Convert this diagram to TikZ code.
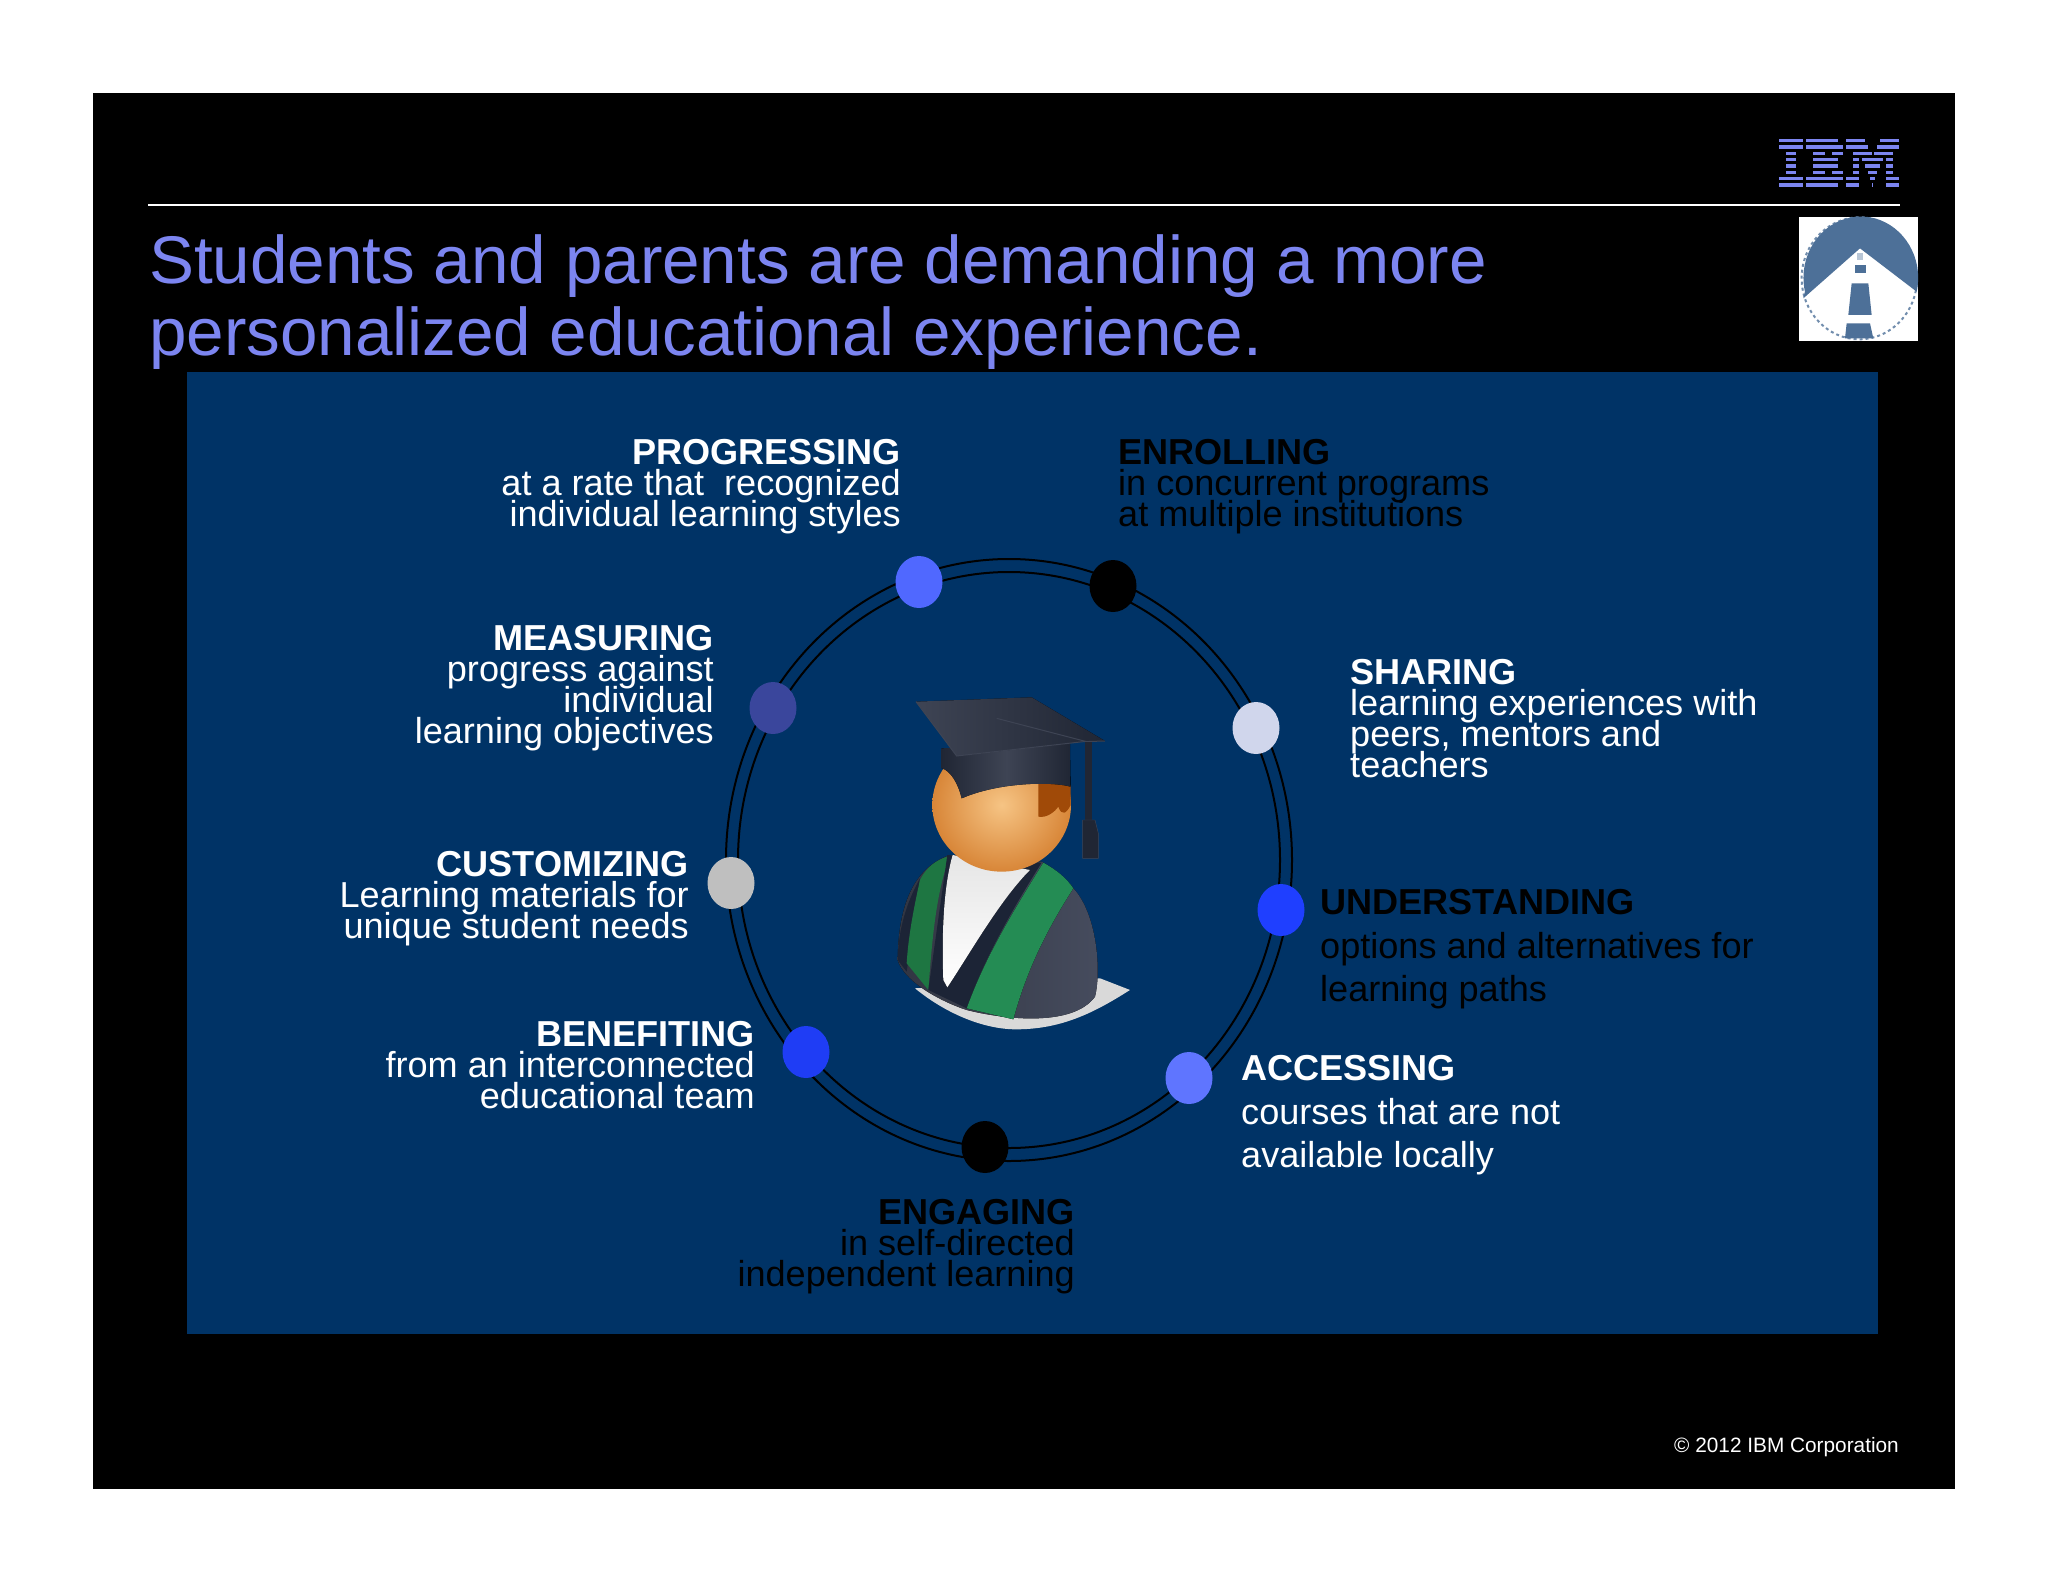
\documentclass[tikz,border=0pt]{standalone}
\usepackage{fontspec}
\setmainfont{Liberation Sans}
\usetikzlibrary{shapes.geometric}
\definecolor{SlideTitle}{RGB}{124,133,240}
\definecolor{PanelBlue}{RGB}{0,51,102}
\definecolor{IconBlue}{RGB}{77,112,152}
\definecolor{HatDark}{RGB}{32,38,52}
\definecolor{HatLight}{RGB}{62,68,84}
\definecolor{GownDark}{RGB}{28,36,54}
\definecolor{GownGrey}{RGB}{70,76,94}
\definecolor{SashDark}{RGB}{36,140,84}
\definecolor{SashLight}{RGB}{56,190,115}
\definecolor{BandGreen}{RGB}{30,118,66}
\definecolor{FaceLight}{RGB}{246,196,132}
\definecolor{FaceDark}{RGB}{216,134,56}
\definecolor{HairBrown}{RGB}{160,74,8}
\definecolor{DotProgressing}{RGB}{80,104,255}
\definecolor{DotSharing}{RGB}{208,214,236}
\definecolor{DotMeasuring}{RGB}{58,70,156}
\definecolor{DotCustomizing}{RGB}{191,191,191}
\definecolor{DotUnderstanding}{RGB}{31,63,255}
\definecolor{DotBenefiting}{RGB}{31,61,245}
\definecolor{DotAccessing}{RGB}{95,117,255}
\newcommand{\stagefont}[1]{\fontsize{36.1}{#1}\selectfont\lineskiplimit=-100pt}
\tikzset{
  stagedot/.style={ellipse,minimum width=47pt,minimum height=52pt,inner sep=0pt},
  stageleft/.style={anchor=north east,align=right,inner sep=0pt,text=white,font=\stagefont{31}},
  stageright/.style={anchor=north west,align=left,inner sep=0pt,text=black,font=\stagefont{31}},
  wideright/.style={stageright,font=\stagefont{43.5}}
}
\begin{document}
\begin{tikzpicture}[x=1pt,y=-1pt]
    \useasboundingbox (0,0) rectangle (2048,1582);
    \fill [white] (0,0) rectangle (2048,1582);
    \fill [black] (93,93) rectangle (1955,1489);% Draw slide
    \fill [PanelBlue] (186.5,372) rectangle (1878,1334);% Draw panel
    \coordinate (RuleStart) at (148,204.5);
    \coordinate (RuleEnd)   at (1900,204.5);
    \draw [white,line width=2pt] (RuleStart) -- (RuleEnd);
    \node [anchor=north west,align=left,inner sep=0pt,text=SlideTitle,font=\fontsize{67.4}{72}\selectfont] (Title) at (149,234)
      {Students and parents are demanding a more\\personalized educational experience.};
    % logo
    \begin{scope}[shift={(1770,130)},x=.3333pt,y=-.3333pt]
      \foreach \row/\xa/\xb in {0/28/98,1/28/98,6/28/98,7/28/98,2/48/78,3/48/78,4/48/78,5/48/78,
          0/108/205,1/108/218,2/128/165,2/185/218,3/128/205,4/128/205,5/128/165,5/185/218,6/108/218,7/108/205,
          0/228/285,0/330/388,1/228/295,1/320/388,2/248/305,2/312/368,3/248/268,3/275/340,3/348/368,
          4/248/268,4/285/330,4/348/368,5/248/268,5/295/320,5/348/368,6/228/268,6/300/315,6/348/388,7/228/268,7/305/310,7/348/388}
        \fill [SlideTitle] (\xa,27+19*\row) rectangle (\xb,37+19*\row);
    \end{scope}
    % lighthouse
    \begin{scope}[shift={(1700,110)},x=.3333pt,y=-.3333pt]
      \fill [white] (298,321) rectangle (655,693);
      \draw [IconBlue!80,line width=2pt,dashed] (478,505) ellipse [x radius=173,y radius=183];
      \fill [IconBlue] (480,415) -- (650,545) arc [start angle=13,end angle=-193,x radius=172,y radius=184] -- (310,565) -- cycle;
      \fill [IconBlue!40] (470,430) rectangle (490,450);
      \fill [IconBlue] (465,465) rectangle (497,490);
      \fill [IconBlue] (455,520) -- (505,520) -- (515,615) -- (445,615) -- cycle;
      \fill [IconBlue] (440,640) -- (510,640) -- (520,685) -- (435,685) -- cycle;
    \end{scope}
    % ring
    \coordinate (RingCentre) at (1009,860);
    \draw [black,line width=2pt] (RingCentre) ellipse [x radius=283,y radius=301];
    \draw [black,line width=2pt] (RingCentre) ellipse [x radius=271,y radius=288];
    \node [stagedot,fill=DotProgressing] (ProgressingDot) at (919,582) {};
    \node [stagedot,fill=black] (EnrollingDot) at (1113,586) {};
    \node [stagedot,fill=DotSharing] (SharingDot) at (1256,728) {};
    \node [stagedot,fill=DotMeasuring] (MeasuringDot) at (773,708) {};
    \node [stagedot,fill=DotCustomizing] (CustomizingDot) at (731,883) {};
    \node [stagedot,fill=DotUnderstanding] (UnderstandingDot) at (1281,910) {};
    \node [stagedot,fill=DotBenefiting] (BenefitingDot) at (806,1052) {};
    \node [stagedot,fill=DotAccessing] (AccessingDot) at (1189,1078) {};
    \node [stagedot,fill=black] (EngagingDot) at (985,1147) {};
    % labels
    \node [stageleft] (Progressing) at (901,439.5) {\textbf{PROGRESSING}\\at a rate that~ recognized\\individual learning styles};
    \node [stageleft] (Measuring) at (714,625) {\textbf{MEASURING}\\progress against\\individual\\learning objectives};
    \node [stageleft] (Customizing) at (689,851.5) {\textbf{CUSTOMIZING}\\Learning materials for\\unique student needs};
    \node [stageleft] (Benefiting) at (755,1021.5) {\textbf{BENEFITING}\\from an interconnected\\educational team};
    \node [stageleft,text=black] (Engaging) at (1075,1199) {\textbf{ENGAGING}\\in self-directed\\independent learning};
    \node [stageright] (Enrolling) at (1118,439.5) {\textbf{ENROLLING}\\in concurrent programs\\at multiple institutions};
    \node [stageright,text=white] (Sharing) at (1350,659) {\textbf{SHARING}\\learning experiences with\\peers, mentors and\\teachers};
    \node [wideright] (Understanding) at (1320,889.5) {\textbf{UNDERSTANDING}\\options and alternatives for\\learning paths};
    \node [wideright,text=white] (Accessing) at (1241,1055.5) {\textbf{ACCESSING}\\courses that are not\\available locally};
    \node [anchor=base east,inner sep=0pt,text=white,font=\fontsize{20.8}{24}\selectfont] (Copyright) at (1899,1452) {\textcopyright{} 2012 IBM Corporation};
    % graduate
    \begin{scope}[shift={(860,670)},x=.3333pt,y=-.3333pt]
      \fill [gray!30] (165,955) .. controls (250,1025) and (360,1075) .. (460,1078) .. controls (600,1080) and (700,1030) .. (810,960) -- (720,925) -- cycle;% shadow
      \fill [left color=GownGrey!70!black,right color=GownGrey] (270,555) .. controls (170,590) and (115,690) .. (113,870) .. controls (130,930) and (230,990) .. (320,1020) .. controls (440,1050) and (640,1070) .. (705,980) .. controls (725,900) and (710,730) .. (640,655) .. controls (610,620) and (580,595) .. (545,575) -- cycle;
      \fill [GownDark] (180,625) .. controls (150,680) and (115,760) .. (113,870) -- (140,905) -- cycle;
      \fill [BandGreen] (262,560) .. controls (230,570) and (200,590) .. (180,630) .. controls (160,720) and (145,800) .. (140,880) -- (205,960) .. controls (215,830) and (225,690) .. (262,580) -- cycle;
      \fill [GownDark] (262,555) -- (205,960) -- (320,1015) .. controls (360,900) and (430,760) .. (545,578) -- cycle;
      \fill [top color=gray!20,bottom color=white] (278,555) -- (510,600) .. controls (420,690) and (330,850) .. (262,952) -- (250,930) .. controls (245,800) and (250,650) .. (278,555) -- cycle;
      \fill [top color=SashDark,middle color=SashLight,bottom color=SashDark] (550,578) .. controls (590,600) and (620,625) .. (640,655) .. controls (560,780) and (500,900) .. (460,1048) -- (320,1015) .. controls (370,880) and (430,770) .. (550,578) -- cycle;
      \shade [inner color=FaceLight,outer color=FaceDark] (425,405) ellipse [x radius=208,y radius=200];
      \fill [HairBrown] (535,335) -- (632,345) -- (632,405) .. controls (620,430) and (605,440) .. (595,410) .. controls (585,425) and (560,445) .. (535,440) -- cycle;
      \fill [left color=HatDark,right color=HatDark,middle color=HatLight] (245,235) -- (630,220) -- (632,350) .. controls (580,335) and (420,335) .. (305,385) .. controls (295,340) and (270,300) .. (245,295) -- cycle;
      \fill [left color=HatLight,right color=HatDark] (168,95) -- (515,82) -- (735,213) -- (670,215) -- (290,258) -- cycle;
      \draw [HatLight,line width=1pt] (168,95) -- (290,258) -- (670,215) -- (735,213);
      \draw [HatLight,line width=1pt] (410,145) -- (680,215);
      \fill [HatDark] (675,215) rectangle (697,450);
      \fill [HatDark,draw=HatLight] (668,450) -- (705,450) -- (715,490) -- (715,565) -- (668,565) -- cycle;
    \end{scope}
  \end{tikzpicture}
\end{document}
